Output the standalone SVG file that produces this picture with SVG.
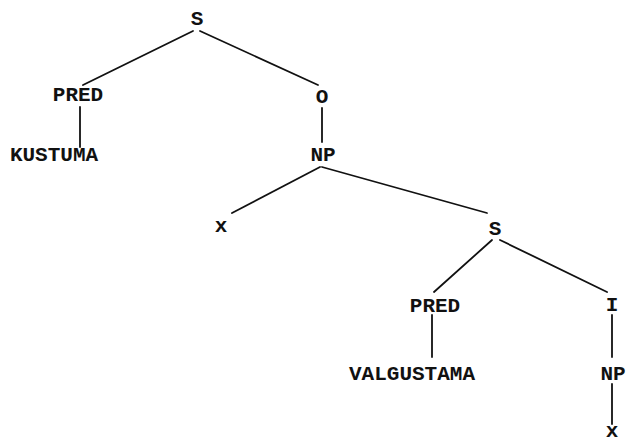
<svg xmlns="http://www.w3.org/2000/svg" width="632" height="443" viewBox="0 0 632 443">
<style>
text{font-family:"Liberation Mono","Courier New",monospace;font-weight:bold;font-size:21px;fill:#111;text-anchor:middle}
.e line{stroke:#111;stroke-width:1.8;stroke-linecap:round}
</style>
<rect width="632" height="443" fill="#fff"/>
<g class="e" id="connectors">
<line x1="193" y1="31" x2="83" y2="85"/>
<line x1="200" y1="31" x2="318" y2="85"/>
<line x1="80" y1="107" x2="80" y2="147"/>
<line x1="322" y1="108" x2="322" y2="142"/>
<line x1="320" y1="167" x2="232" y2="213"/>
<line x1="322" y1="167" x2="487" y2="213" stroke-width="2.4"/>
<line x1="492" y1="240" x2="434" y2="292"/>
<line x1="500" y1="240" x2="607" y2="292"/>
<line x1="432" y1="315" x2="432" y2="357"/>
<line x1="612" y1="315" x2="612" y2="357"/>
<line x1="612" y1="384" x2="612" y2="424"/>
</g>
<g id="n-s1"><text x="197" y="25">S</text></g>
<g id="n-pred1"><text x="78" y="101">PRED</text></g>
<g id="n-kustuma"><text x="54" y="161">KUSTUMA</text></g>
<g id="n-o"><text x="322" y="103">O</text></g>
<g id="n-np1"><text x="323" y="161">NP</text></g>
<g id="n-x1"><text x="221" y="232">x</text></g>
<g id="n-s2"><text x="495" y="235">S</text></g>
<g id="n-pred2"><text x="435" y="312">PRED</text></g>
<g id="n-i"><text x="612" y="311">I</text></g>
<g id="n-valgustama"><text x="412" y="380">VALGUSTAMA</text></g>
<g id="n-np2"><text x="613" y="380">NP</text></g>
<g id="n-x2"><text x="612" y="437">x</text></g>
</svg>
